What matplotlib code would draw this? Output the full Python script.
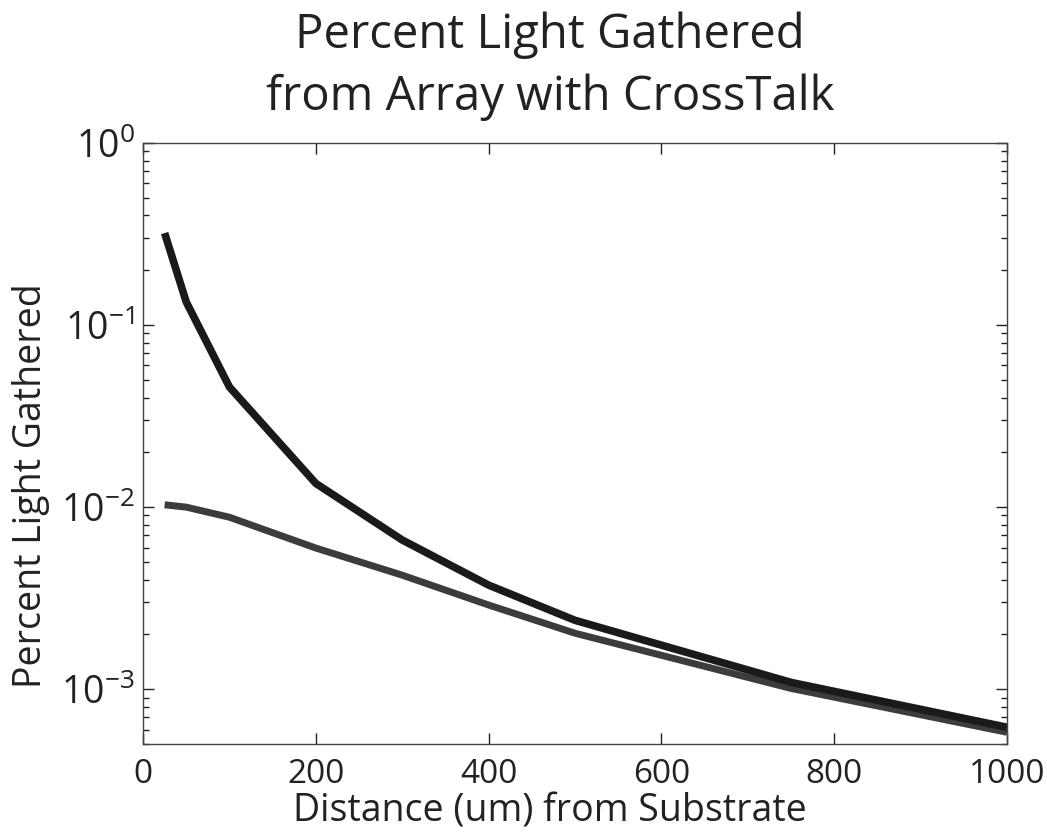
import matplotlib
matplotlib.use('Agg')
import matplotlib.pyplot as plt
import numpy as np

# values (distance in um, fraction of light)
dist = [25, 50, 100, 200, 300, 400, 500, 750, 1000]
with_crosstalk = [0.32, 0.134, 0.0457, 0.0135, 0.0066, 0.00373, 0.00239, 0.00109, 0.000618]
no_crosstalk = [0.0103, 0.0100, 0.0088, 0.00596, 0.00423, 0.0029, 0.00203, 0.00101, 0.00058]

xticks = [0, 200, 400, 600, 800, 1000]

plt.rcParams['font.family'] = ['Open Sans', 'DejaVu Sans']
plt.rcParams['mathtext.fontset'] = 'custom'
plt.rcParams['mathtext.rm'] = 'Open Sans'
plt.rcParams['mathtext.default'] = 'regular'

fig = plt.figure(figsize=(10.47, 8.39), dpi=100)
ax = fig.add_axes([0.1366, 0.1132, 0.8252, 0.7164])

ax.plot(dist, no_crosstalk, color='#3c3c3c', linewidth=5.0, solid_capstyle='butt')
ax.plot(dist, with_crosstalk, color='#1a1a1a', linewidth=5.5, solid_capstyle='butt')

ax.set_yscale('log')
ax.set_xlim(0, 1000)
ax.set_ylim(5e-4, 1)
ax.set_xticks(xticks)

ax.tick_params(which='both', direction='in', top=True, right=True, colors='#222222')
ax.tick_params(axis='x', labelsize=24, pad=10)
ax.tick_params(axis='y', labelsize=27, pad=6)
ax.tick_params(which='major', length=8, width=1)
ax.tick_params(which='minor', length=4, width=1)
for s in ax.spines.values():
    s.set_linewidth(1.0)
    s.set_color('#444444')

# labels in the original sit a bit left of / below the axes centre
ax.set_xlabel('Distance (um) from Substrate', fontsize=27, labelpad=1, color='#222222', x=0.471)
ax.set_ylabel('Percent Light Gathered', fontsize=27, labelpad=8, color='#222222', y=0.43)
ax.set_title('Percent Light Gathered\nfrom Array with CrossTalk', fontsize=34, pad=24,
             linespacing=1.4, color='#222222', x=0.471)

fig.savefig('out.png', dpi=100)
